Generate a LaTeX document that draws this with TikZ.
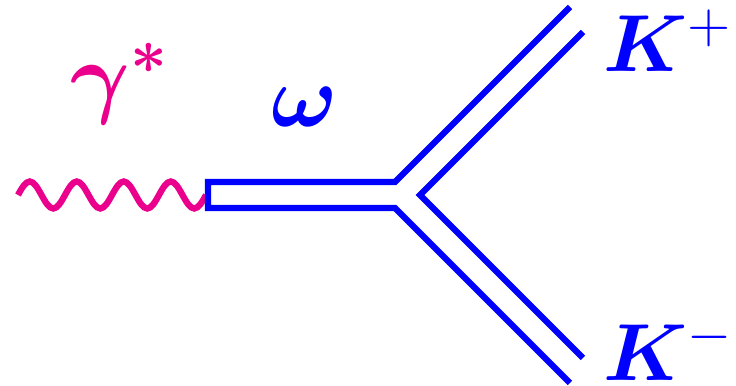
\documentclass[tikz,border=0pt]{standalone}
\usepackage{fix-cm}
\usepackage{amsmath,amssymb,bm}
\usepackage{tikz}
\definecolor{photonpink}{RGB}{234,0,140}
\definecolor{mesonblue}{RGB}{0,0,255}

\begin{document}
\begin{tikzpicture}[x=0.01cm,y=-0.01cm,
    photon/.style={draw=photonpink,line width=1.8pt},
    meson/.style={draw=mesonblue,line width=1.75pt,line join=miter},
    lbl/.style={inner sep=0pt,anchor=base west}
]
    \useasboundingbox (0,0) rectangle (736,386);

    % photon line
    \coordinate (gin) at (18,195);
    \draw[photon] (gin) \foreach \i in {1,...,4} {
        sin ++(11.75,-13.5) cos ++(11.75,13.5) sin ++(11.75,13.5) cos ++(11.75,-13.5)}
        coordinate (gout);

    % omega and the two kaons
    \coordinate (wtl) at (208,182);
    \coordinate (wbl) at (208,208);
    \coordinate (vtop) at (395,182);
    \coordinate (vbot) at (395,208);
    \coordinate (vin) at (420,195);
    \coordinate (kpo) at (570,7);
    \coordinate (kpi) at (583,32);
    \coordinate (kmo) at (570,383);
    \coordinate (kmi) at (583,358);
    \draw[meson] (kpo) -- (vtop) -- (wtl) -- (wbl) -- (vbot) -- (kmo);
    \draw[meson] (kpi) -- (vin) -- (kmi);

    % labels
    \node[lbl,text=photonpink,font=\fontsize{26}{30}\selectfont] (gamma) at (70,107) {$\boldsymbol{\gamma^{*}}$};
    \node[lbl,text=mesonblue,font=\fontsize{25}{30}\selectfont] (omega) at (271,127) {$\boldsymbol{\omega}$};
    \node[lbl,text=mesonblue,font=\fontsize{23}{28}\selectfont] (kplus) at (603,72) {$\boldsymbol{K}^{+}$};
    \node[lbl,text=mesonblue,font=\fontsize{23}{28}\selectfont] (kminus) at (603,381) {$\boldsymbol{K}^{-}$};
\end{tikzpicture}
\end{document}
